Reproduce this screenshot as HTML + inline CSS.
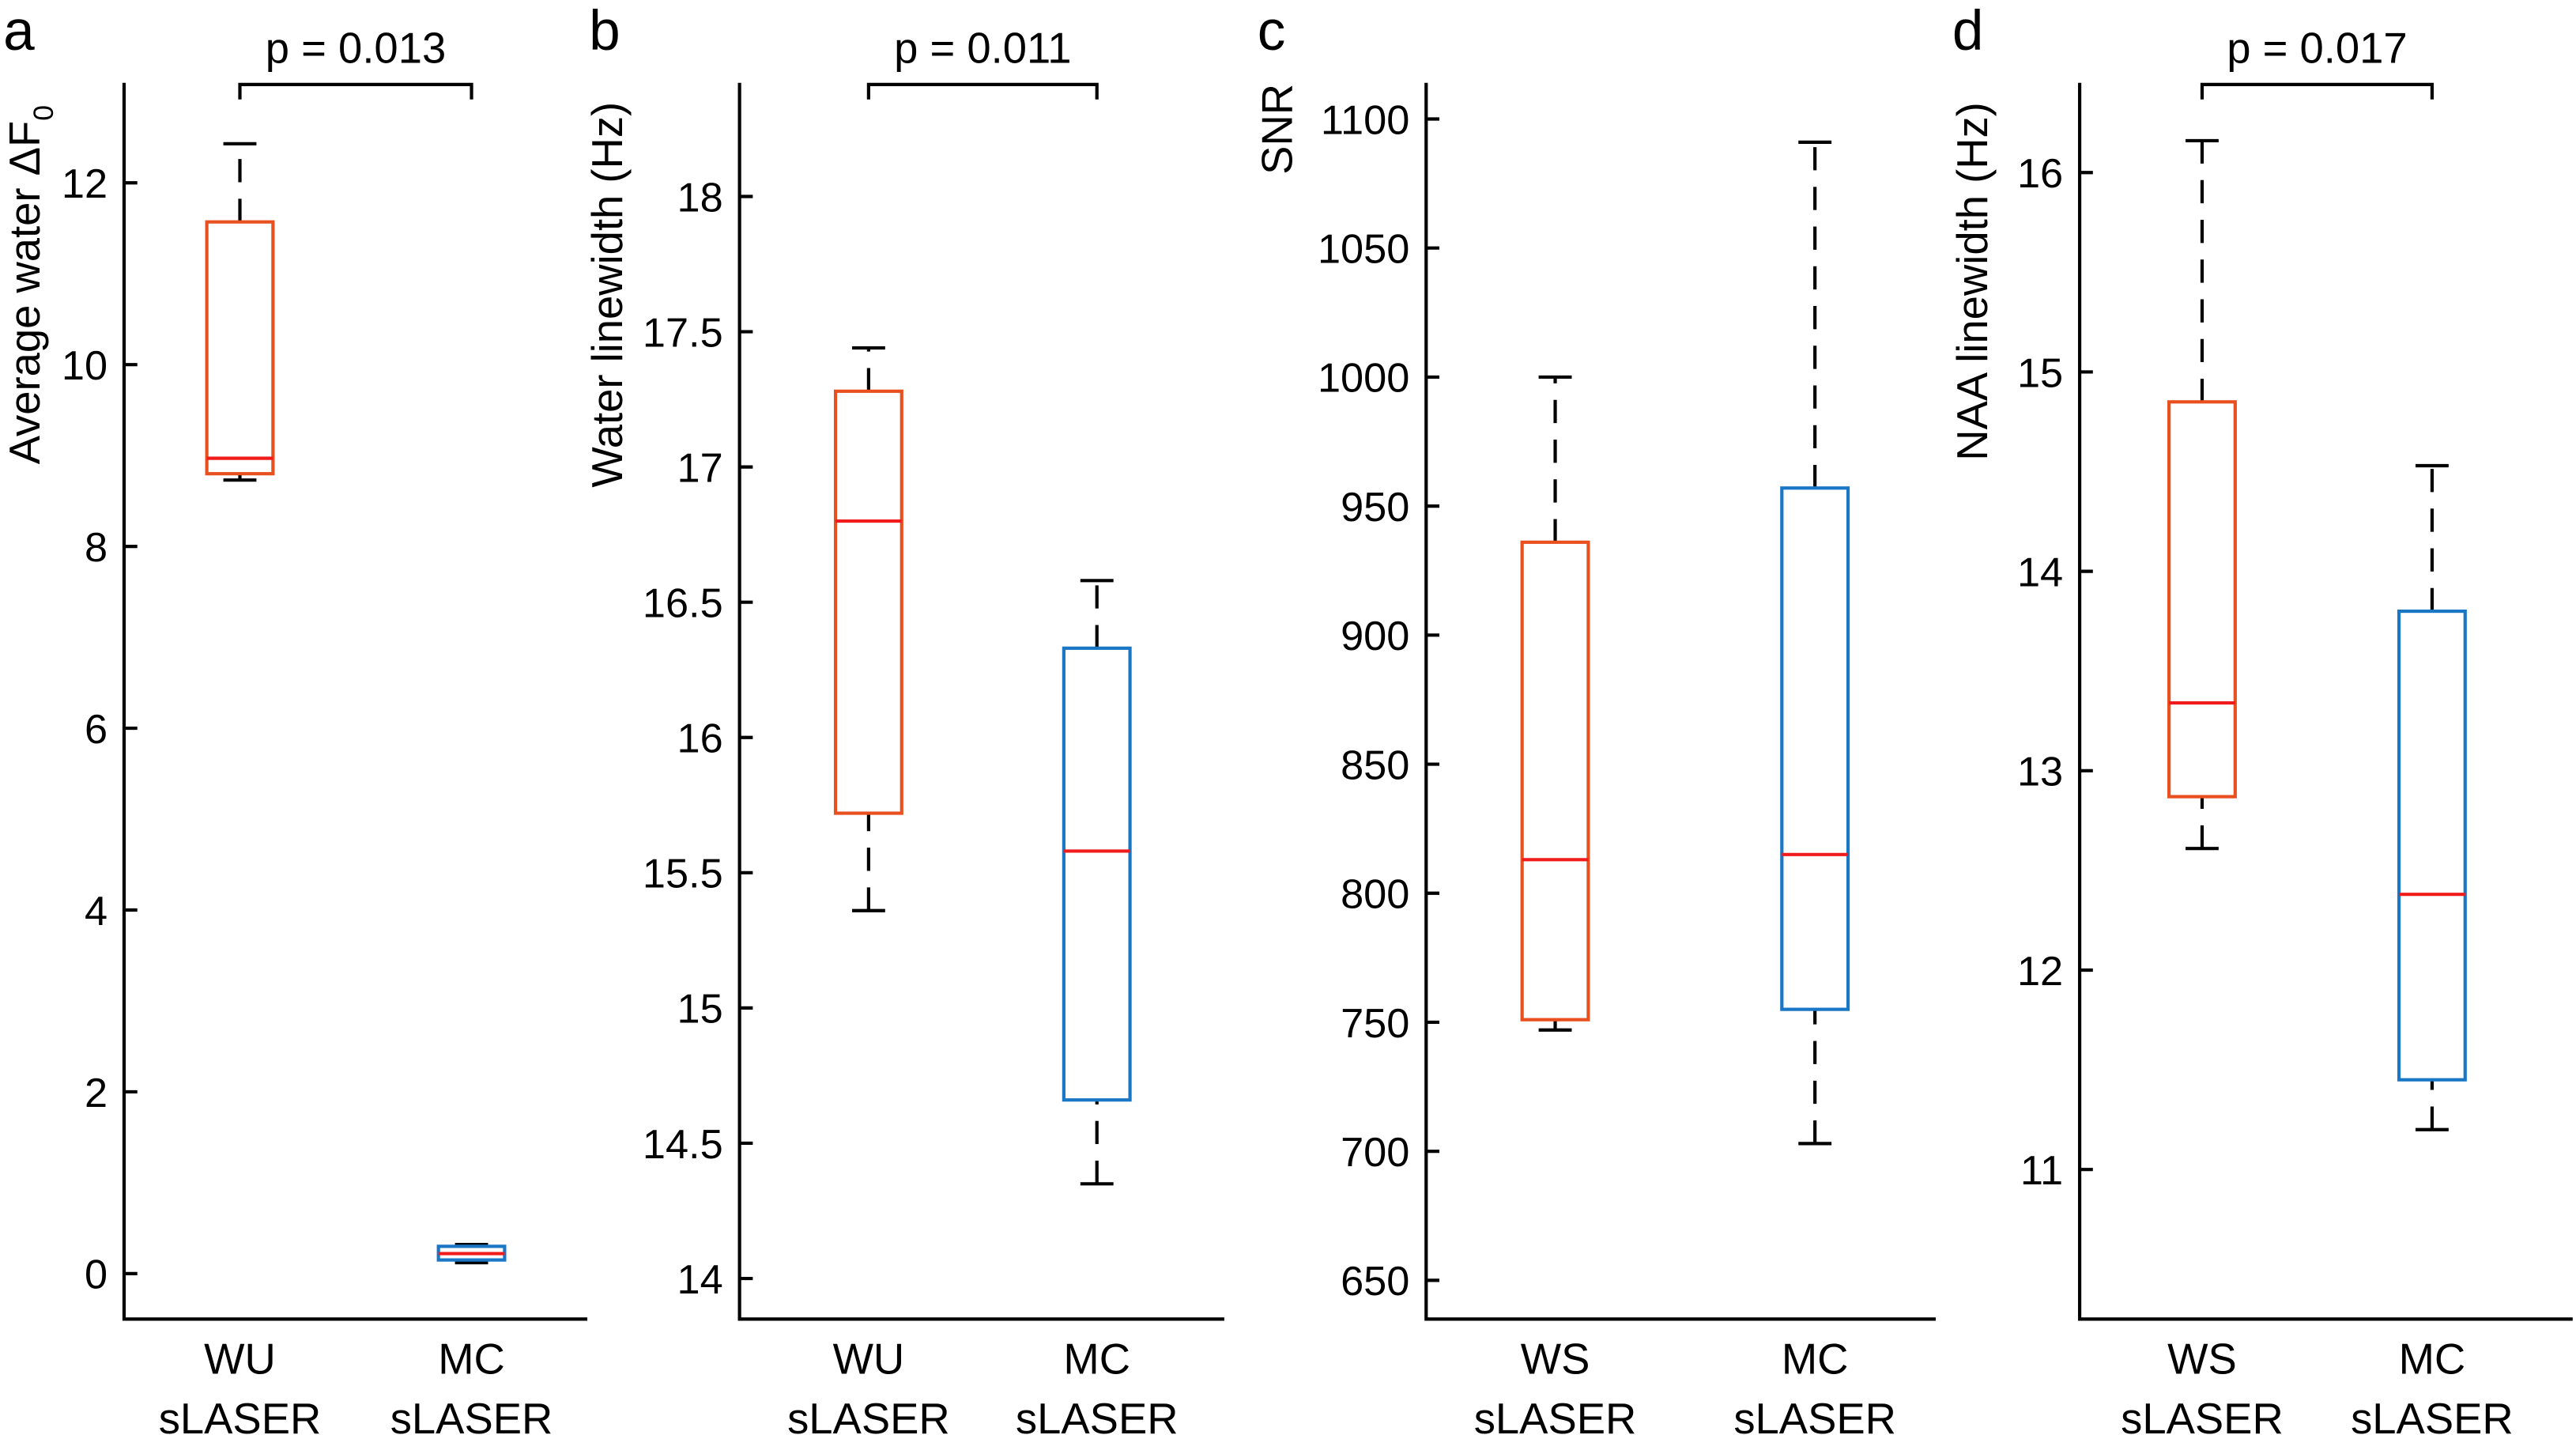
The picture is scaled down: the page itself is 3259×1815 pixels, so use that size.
<!DOCTYPE html>
<html><head><meta charset="utf-8"><style>
html,body{margin:0;padding:0;background:#fff}
svg{display:block}
text{font-family:"Liberation Sans","DejaVu Sans",sans-serif;fill:#000}
</style></head><body>
<svg id="fig" width="3259" height="1815" viewBox="0 0 1557 867" xmlns="http://www.w3.org/2000/svg"></svg>
<script>
// Panel data
const panelLetters = ["a","b","c","d"];
const catsA = ["WU","MC"], catsB = ["WU","MC"], catsC = ["WS","MC"], catsD = ["WS","MC"];
const statsA = [[8.73,8.8,8.97,11.57,12.43],[0.12,0.15,0.22,0.3,0.32]];
const statsB = [[15.36,15.72,16.8,17.28,17.44],[14.35,14.66,15.58,16.33,16.58]];
const statsC = [[747,751,813,936,1000],[703,755,815,957,1091]];
const statsD = [[12.61,12.87,13.34,14.85,16.16],[11.2,11.45,12.38,13.8,14.53]];
const ticksA = [0,2,4,6,8,10,12];
const ticksB = [14,14.5,15,15.5,16,16.5,17,17.5,18];
const ticksC = [650,700,750,800,850,900,950,1000,1050,1100];
const ticksD = [11,12,13,14,15,16];
const pvals = ["p = 0.013","p = 0.011",null,"p = 0.017"];

const svg=document.getElementById('fig');
const NS="http://www.w3.org/2000/svg";
function el(tag,attrs,parent){const e=document.createElementNS(NS,tag);for(const k in attrs)e.setAttribute(k,attrs[k]);(parent||svg).appendChild(e);return e;}

const panels=[
 {ax:75,xe:355,ymin:-0.5,ymax:13.1,cx:[145,285],cats:catsA,stats:statsA,ticks:ticksA,letterX:2,title:"Average water ΔF",sub:"0",tx:24,ty:172},
 {ax:447,xe:740,ymin:13.85,ymax:18.42,cx:[525,663],cats:catsB,stats:statsB,ticks:ticksB,letterX:356,title:"Water linewidth (Hz)",tx:376,ty:178},
 {ax:862,xe:1170,ymin:635,ymax:1114,cx:[940,1097],cats:catsC,stats:statsC,ticks:ticksC,letterX:760,title:"SNR",tx:781,ty:78},
 {ax:1257,xe:1555,ymin:10.25,ymax:16.45,cx:[1331,1470],cats:catsD,stats:statsD,ticks:ticksD,letterX:1180,title:"NAA linewidth (Hz)",tx:1201,ty:170}
];
const TOP=50,BOT=797;
const colors=["#E8501F","#1A77C6"];
panels.forEach((p,i)=>{
  const g=el('g',{});
  
  
  const y=v=>BOT-(v-p.ymin)/(p.ymax-p.ymin)*(BOT-TOP);
  const L=el('text',{x:p.letterX,y:30,'font-size':34},g);L.textContent=panelLetters[i];
  
  const ya=el('path',{d:`M${p.ax},${TOP}V${BOT}H${p.xe}`,stroke:'#000','stroke-width':2,fill:'none'},g);
  
  p.ticks.forEach(t=>{
    el('line',{x1:p.ax,x2:p.ax+8,y1:y(t),y2:y(t),stroke:'#000','stroke-width':2},g);
    const tl=el('text',{x:p.ax-10,y:y(t)+9,'font-size':25,'text-anchor':'end'},g);tl.textContent=t;
    
  });
  const tt=el('text',{x:0,y:0,'font-size':26,'text-anchor':'middle',transform:`translate(${p.tx},${p.ty}) rotate(-90)`},g);
  tt.textContent=p.title;
  if(p.sub){const s=el('tspan',{'font-size':17,dy:8},tt);s.textContent=p.sub;}
  
  p.stats.forEach((s,j)=>{
    const cx=p.cx[j],hw=20;
    const bg=el('g',{},g);
    
    
    el('line',{x1:cx,x2:cx,y1:y(s[0]),y2:y(s[1]),stroke:'#000','stroke-width':2,'stroke-dasharray':'14,10'},bg);
    el('line',{x1:cx,x2:cx,y1:y(s[3]),y2:y(s[4]),stroke:'#000','stroke-width':2,'stroke-dasharray':'14,10'},bg);
    el('line',{x1:cx-10,x2:cx+10,y1:y(s[0]),y2:y(s[0]),stroke:'#000','stroke-width':2},bg);
    el('line',{x1:cx-10,x2:cx+10,y1:y(s[4]),y2:y(s[4]),stroke:'#000','stroke-width':2},bg);
    el('rect',{x:cx-hw,y:y(s[3]),width:2*hw,height:y(s[1])-y(s[3]),fill:'none',stroke:colors[j],'stroke-width':2},bg);
    el('line',{x1:cx-hw,x2:cx+hw,y1:y(s[2]),y2:y(s[2]),stroke:'#F01B1B','stroke-width':2},bg);
    const c1=el('text',{x:cx,y:830,'font-size':26,'text-anchor':'middle'},g);c1.textContent=p.cats[j];
    
    const c2=el('text',{x:cx,y:866,'font-size':26,'text-anchor':'middle'},g);c2.textContent='sLASER';
    
  });
  if(pvals[i]){
    const b=el('path',{d:`M${p.cx[0]},60V51H${p.cx[1]}V60`,stroke:'#000','stroke-width':2,fill:'none'},g);
    
    const pt=el('text',{x:(p.cx[0]+p.cx[1])/2,y:38,'font-size':26,'text-anchor':'middle'},g);pt.textContent=pvals[i];
    
  }
});
</script>
</body></html>
